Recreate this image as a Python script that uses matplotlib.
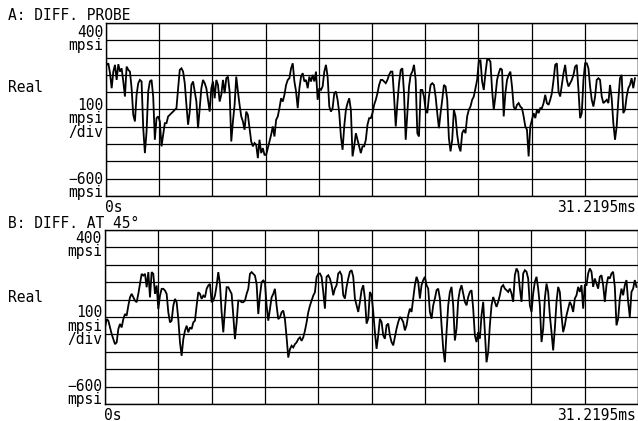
import numpy as np
import matplotlib
matplotlib.use("Agg")
import matplotlib.pyplot as plt

# Time span of the record (ms) and vertical scale (mpsi)
t_full = 31.2195
y_top, y_bottom = 400, -600

# Trace A: differential probe, real part (mpsi)
real_a = [
    158, 167, 110, 23, 119, 158, 71, 162, 119, 138,
    62, -25, 148, 129, 119, 23, -131, -169, -15, 52,
    71, 62, -208, -352, -227, 4, 62, 71, -25, -275,
    -150, -140, -169, -313, -246, -179, -179, -140, -131, -121,
    -112, -102, -92, 23, 129, 138, 119, 52, -73, -188,
    -112, 42, 62, 4, -54, -208, -92, 23, 71, 52,
    23, -44, -112, 23, 62, -35, 71, 42, -54, -15,
    71, -6, 81, 90, 4, -285, -169, -73, 90, 4,
    -73, -140, -169, -217, -112, -131, -208, -285, -313, -294,
    -304, -381, -275, -352, -323, -362, -362, -323, -285, -246,
    -198, -256, -160, -140, -92, -35, -54, -15, 42, 71,
    81, 138, 167, 62, 4, -92, 23, 90, 110, 62,
    71, 23, 90, 62, 100, 62, 119,
    -44, 23, 13, 33, 119, 158, 90, -83, -112, -92,
    -6, 4, -44, -121, -256, -333, -198, -102, -63, -35,
    -102, -371, -313, -237, -275, -313, -352, -313, -313, -275,
    -188, -150, -150, -121, -73, -44, -6, 42, 71, 71,
    62, 52, 71, 100, 119, 119, -25, -198, -63, 52,
    129, 138, -6, -275, -121, 33, 100, 119, 158, 71,
    -237, -256, 13, 13, -25, -102, -121, -25, 42, 52,
    42, -25, -121, -208, -121, -44, 42, 33, -44, -265,
    -342, -275, -102, -140, -246, -313, -342, -237, -217, -237,
    -140, -102, -83, -44, -25, 23, 71, 177, 187, 62,
    13, 110, 187, 190, 177, 13, -102, -25, 71, 110,
    138, 129, -140, -6, 71, 100, 119, 33, -83, -102,
    -73, -63, -83, -92, -140, -198, -217, -371, -198, -160,
    -121, -150, -102, -121, -92, -92, -63, -15, -63, -73,
    -44, -6, 71, 158, 167, 4, -25, 42, 110, 158,
    71, 33, 52, 71, 100, 148, 158, 13, -150, -121,
    71, 167, 167, 138, 33, -44, -83, -25, 71, 81,
    71, -25, -63, -54, -44, -63, 42, -35, -179, -275,
    -198, -44, 81, 100, -121, -102, -25, 23, 42, 81,
    23, 81,
]
t_a_start, t_a_end = 0.04, 31.04

# Trace B: differential at 45 degrees, real part (mpsi)
real_b = [
    -160, -112, -121, -160, -198, -227, -256, -246, -169, -140,
    -160, -112, -83, -92, -35, 13, 33, 13, -6, -15,
    33, 90, 148, 138, 148, 71, 158, 13, 158, 148,
    33, 81, -54, 23, 62, 62, 52, 33, -73, -131,
    -121, -35, 4, -15, -112, -246, -323, -227, -179, -150,
    -188, -160, -169, -131, -121, -35, 42, 33, 4, 23,
    13, 62, 81, 90, -15, -6, 23, 81, 158, 90,
    -73, -188, -54, 71, 71, 52, 33, -92, -227, -131,
    -6, -6, -15, -15, -6, 33, 62, 148, 158, 148,
    138, 90, -83, 23, 100, 110, 100, -35, -121, -54,
    13, 33, 62, -35, -112, -102, -73, -63, -112, -217,
    -333, -285, -265, -275, -256, -246, -227, -217, -237, -217,
    -179, -131, -73, -35, -6, 23, 42, 129, 148,
    150, 131, 44, -52, 131, 140, 121, 83, 25, 63,
    83, 150, 160, 140, 25, 6, 73, 121, 160, 169,
    131, 6, -33, -71, -13, 54, 83, 6, -138, -110,
    44, 25, -71, -187, -283, -206, -110, -129, -206, -225,
    -148, -138, -206, -244, -263, -215, -167, -129, -100, -110,
    -129, -177, -148, -90, -52, -71, 6, 83, 131, 102,
    6, 83, 112, 131, 83, 63, -71, -110, -33, 6,
    54, 63, 6, -148, -283, -360, -187, -33, 44, 73,
    -33, -235, -167, -4, 54, 83, 35, -13, -33, 15,
    44, 54, -52, -206, -244, -187, -225, -90, -13, -187,
    -360, -302, -148, -33, 15, -13, -42, -13, 25, 73,
    83, 63, 54, 44, 63, 35, -13, 140, 179, 160,
    63, -13, 150, 169, 160, 121, -33, -71, 35, 102,
    131, 63, -33, -244, -167, 6, 92, 44, -90, -187,
    -292, -167, -13, 73, 44, -90, -187, -148, -90, -52,
    -13, -33, -71, 6, 25, 73, 44, 83, -52, 83,
    83, 150, 179, 160, 73, 121, 92, 63, 131, 140,
    83, -13, 83, 131, 121, 150, 160, 73, -148, -110,
    6, 63, 25, 83, 112, -13, -100, 44, 63, 112,
    73,
]
t_b_start, t_b_end = 0.0, 31.13

t_a = np.linspace(t_a_start, t_a_end, len(real_a))
t_b = np.linspace(t_b_start, t_b_end, len(real_b))

W, H = 638, 421
fig = plt.figure(figsize=(W / 100, H / 100), dpi=100)
mono = "DejaVu Sans Mono"
fs = 10.5


def put(x, y, s, ha="left"):
    # place a label at pixel position (x, y) measured from top-left
    fig.text(x / W, 1 - y / H, s, ha=ha, va="center", family=mono,
             fontsize=fs, color="black", multialignment=ha,
             linespacing=0.85)


def panel(rect, t, v):
    ax = fig.add_axes(rect)
    ax.plot(t, v, color="black", lw=1.3, solid_joinstyle="miter")
    ax.set_xlim(0, t_full)
    ax.set_ylim(y_bottom, y_top)
    ax.set_xticks(np.linspace(0, t_full, 11))
    ax.set_yticks(np.arange(y_bottom, y_top + 1, 100))
    ax.grid(True, color="black", lw=0.9)
    ax.tick_params(length=0, labelbottom=False, labelleft=False)
    for s in ax.spines.values():
        s.set_color("black")
        s.set_linewidth(1.0)
    return ax


panel([106 / W, 1 - 196 / H, 532 / W, 173 / H], t_a, real_a)
panel([105 / W, 1 - 404 / H, 533 / W, 174 / H], t_b, real_b)

# Panel A labels
put(8, 16, "A: DIFF. PROBE")
put(103, 39, "400\nmpsi", "right")
put(8, 88, "Real")
put(103, 119, "100\nmpsi\n/div", "right")
put(103, 186, "\u2212600\nmpsi", "right")
put(105, 208, "0s")
put(636, 208, "31.2195ms", "right")

# Panel B labels
put(8, 223, "B: DIFF. AT 45\u00b0")
put(102, 245, "400\nmpsi", "right")
put(8, 297, "Real")
put(102, 326, "100\nmpsi\n/div", "right")
put(102, 393, "\u2212600\nmpsi", "right")
put(104, 415, "0s")
put(636, 415, "31.2195ms", "right")

fig.savefig("out.png", dpi=100)
